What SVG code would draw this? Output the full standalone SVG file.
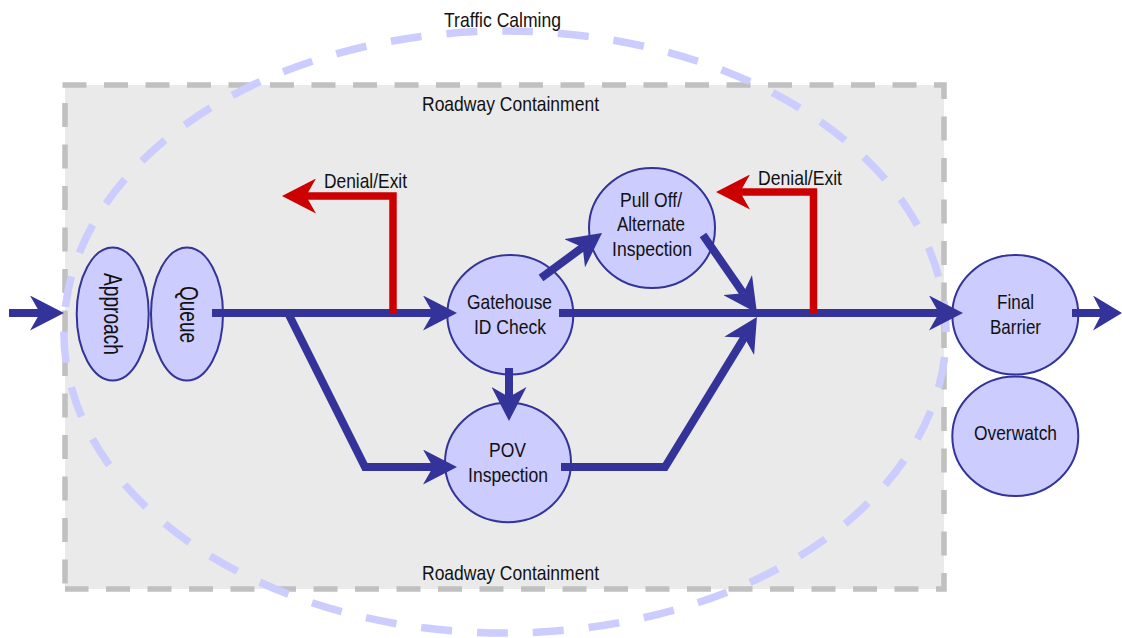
<svg xmlns="http://www.w3.org/2000/svg" width="1122" height="638" viewBox="0 0 1122 638">
<style>
text{font-family:"Liberation Sans",Arial,sans-serif;font-size:21px;fill:#111}
.rot{font-size:25px}
.node{fill:#ccccff;stroke:#333399;stroke-width:2}
.flow{fill:none;stroke:#333399;stroke-width:8;stroke-linejoin:miter;marker-end:url(#blue)}
.exit{fill:none;stroke:#cc0000;stroke-width:7.5;stroke-linejoin:miter;marker-end:url(#red)}
</style>
<defs>
<marker id="blue" markerUnits="userSpaceOnUse" markerWidth="34" markerHeight="35" refX="10" refY="17.5" orient="auto"><path d="M0,0L34,17.5L0,35L10,17.5Z" fill="#333399"/></marker>
<marker id="blueShort" markerUnits="userSpaceOnUse" markerWidth="29" markerHeight="35" refX="9" refY="17.5" orient="auto"><path d="M0,0L29,17.5L0,35L9,17.5Z" fill="#333399"/></marker>
<marker id="red" markerUnits="userSpaceOnUse" markerWidth="34" markerHeight="35" refX="10" refY="17.5" orient="auto"><path d="M0,0L34,17.5L0,35L10,17.5Z" fill="#cc0000"/></marker>
</defs>
<g id="roadway-containment">
<rect x="65" y="85" width="879" height="504" fill="#eaeaea"/>
<path d="M62.5,85H944V589H65" fill="none" stroke="#c0c0c0" stroke-width="5.5" stroke-dasharray="24 17.5"/>
<path d="M65,103V589" fill="none" stroke="#c0c0c0" stroke-width="5.5" stroke-dasharray="24 17.5"/>
<text x="422" y="111" textLength="177" lengthAdjust="spacingAndGlyphs">Roadway Containment</text>
<text x="422" y="580" textLength="177" lengthAdjust="spacingAndGlyphs">Roadway Containment</text>
</g>
<g id="traffic-calming">
<text x="444" y="27" textLength="117" lengthAdjust="spacingAndGlyphs">Traffic Calming</text>
<path d="M505,31A441,301 0 1 1 505,633A441,301 0 1 1 505,31Z" fill="none" stroke="#ccccff" stroke-width="7.5" stroke-dasharray="31 25" stroke-dashoffset="3"/>
</g>
<g id="approach"><ellipse class="node" cx="112.7" cy="314" rx="36" ry="66.5"/><text class="rot" transform="translate(104,273) rotate(90)" textLength="82" lengthAdjust="spacingAndGlyphs">Approach</text></g>
<g id="queue"><ellipse class="node" cx="187" cy="314" rx="36" ry="66.5"/><text class="rot" transform="translate(179.5,286) rotate(90)" textLength="57" lengthAdjust="spacingAndGlyphs">Queue</text></g>
<g id="gatehouse"><ellipse class="node" cx="510.3" cy="314.7" rx="63" ry="59.7"/><text x="467" y="309" textLength="85" lengthAdjust="spacingAndGlyphs">Gatehouse</text><text x="474" y="334" textLength="72" lengthAdjust="spacingAndGlyphs">ID Check</text></g>
<g id="pull-off"><ellipse class="node" cx="652" cy="228" rx="63" ry="60"/><text x="620" y="206.5" textLength="62" lengthAdjust="spacingAndGlyphs">Pull Off/</text><text x="617" y="231" textLength="68" lengthAdjust="spacingAndGlyphs">Alternate</text><text x="612" y="256" textLength="80" lengthAdjust="spacingAndGlyphs">Inspection</text></g>
<g id="pov"><ellipse class="node" cx="508" cy="462.5" rx="63" ry="59.7"/><text x="489" y="457" textLength="37" lengthAdjust="spacingAndGlyphs">POV</text><text x="468" y="482" textLength="80" lengthAdjust="spacingAndGlyphs">Inspection</text></g>
<g id="final-barrier"><ellipse class="node" cx="1015.3" cy="314.7" rx="63" ry="59.7"/><text x="997" y="309" textLength="37" lengthAdjust="spacingAndGlyphs">Final</text><text x="990" y="334" textLength="51" lengthAdjust="spacingAndGlyphs">Barrier</text></g>
<g id="overwatch"><ellipse class="node" cx="1015.3" cy="436.3" rx="63" ry="59.7"/><text x="974" y="440" textLength="83" lengthAdjust="spacingAndGlyphs">Overwatch</text></g>
<g id="connectors">
<path class="flow" d="M9,313H40"/>
<path class="flow" d="M212,313H433"/>
<path class="flow" d="M288,313L365,467H433"/>
<path class="flow" d="M559,313H939"/>
<path class="flow" d="M541,278L582.7,247.3"/>
<path class="flow" d="M703,235L743.3,293.3"/>
<path class="flow" d="M561,467H665L744.4,337.4"/>
<path class="flow" d="M509,368V397"/>
<path d="M1072,313H1102" fill="none" stroke="#333399" stroke-width="8" marker-end="url(#blueShort)"/>
<path class="exit" d="M393,313V196H306"/>
<path class="exit" d="M813.5,313V192H740"/>
</g>
<g id="exit-labels">
<text x="324" y="188" textLength="83" lengthAdjust="spacingAndGlyphs">Denial/Exit</text>
<text x="758" y="185" textLength="84" lengthAdjust="spacingAndGlyphs">Denial/Exit</text>
</g>
</svg>
